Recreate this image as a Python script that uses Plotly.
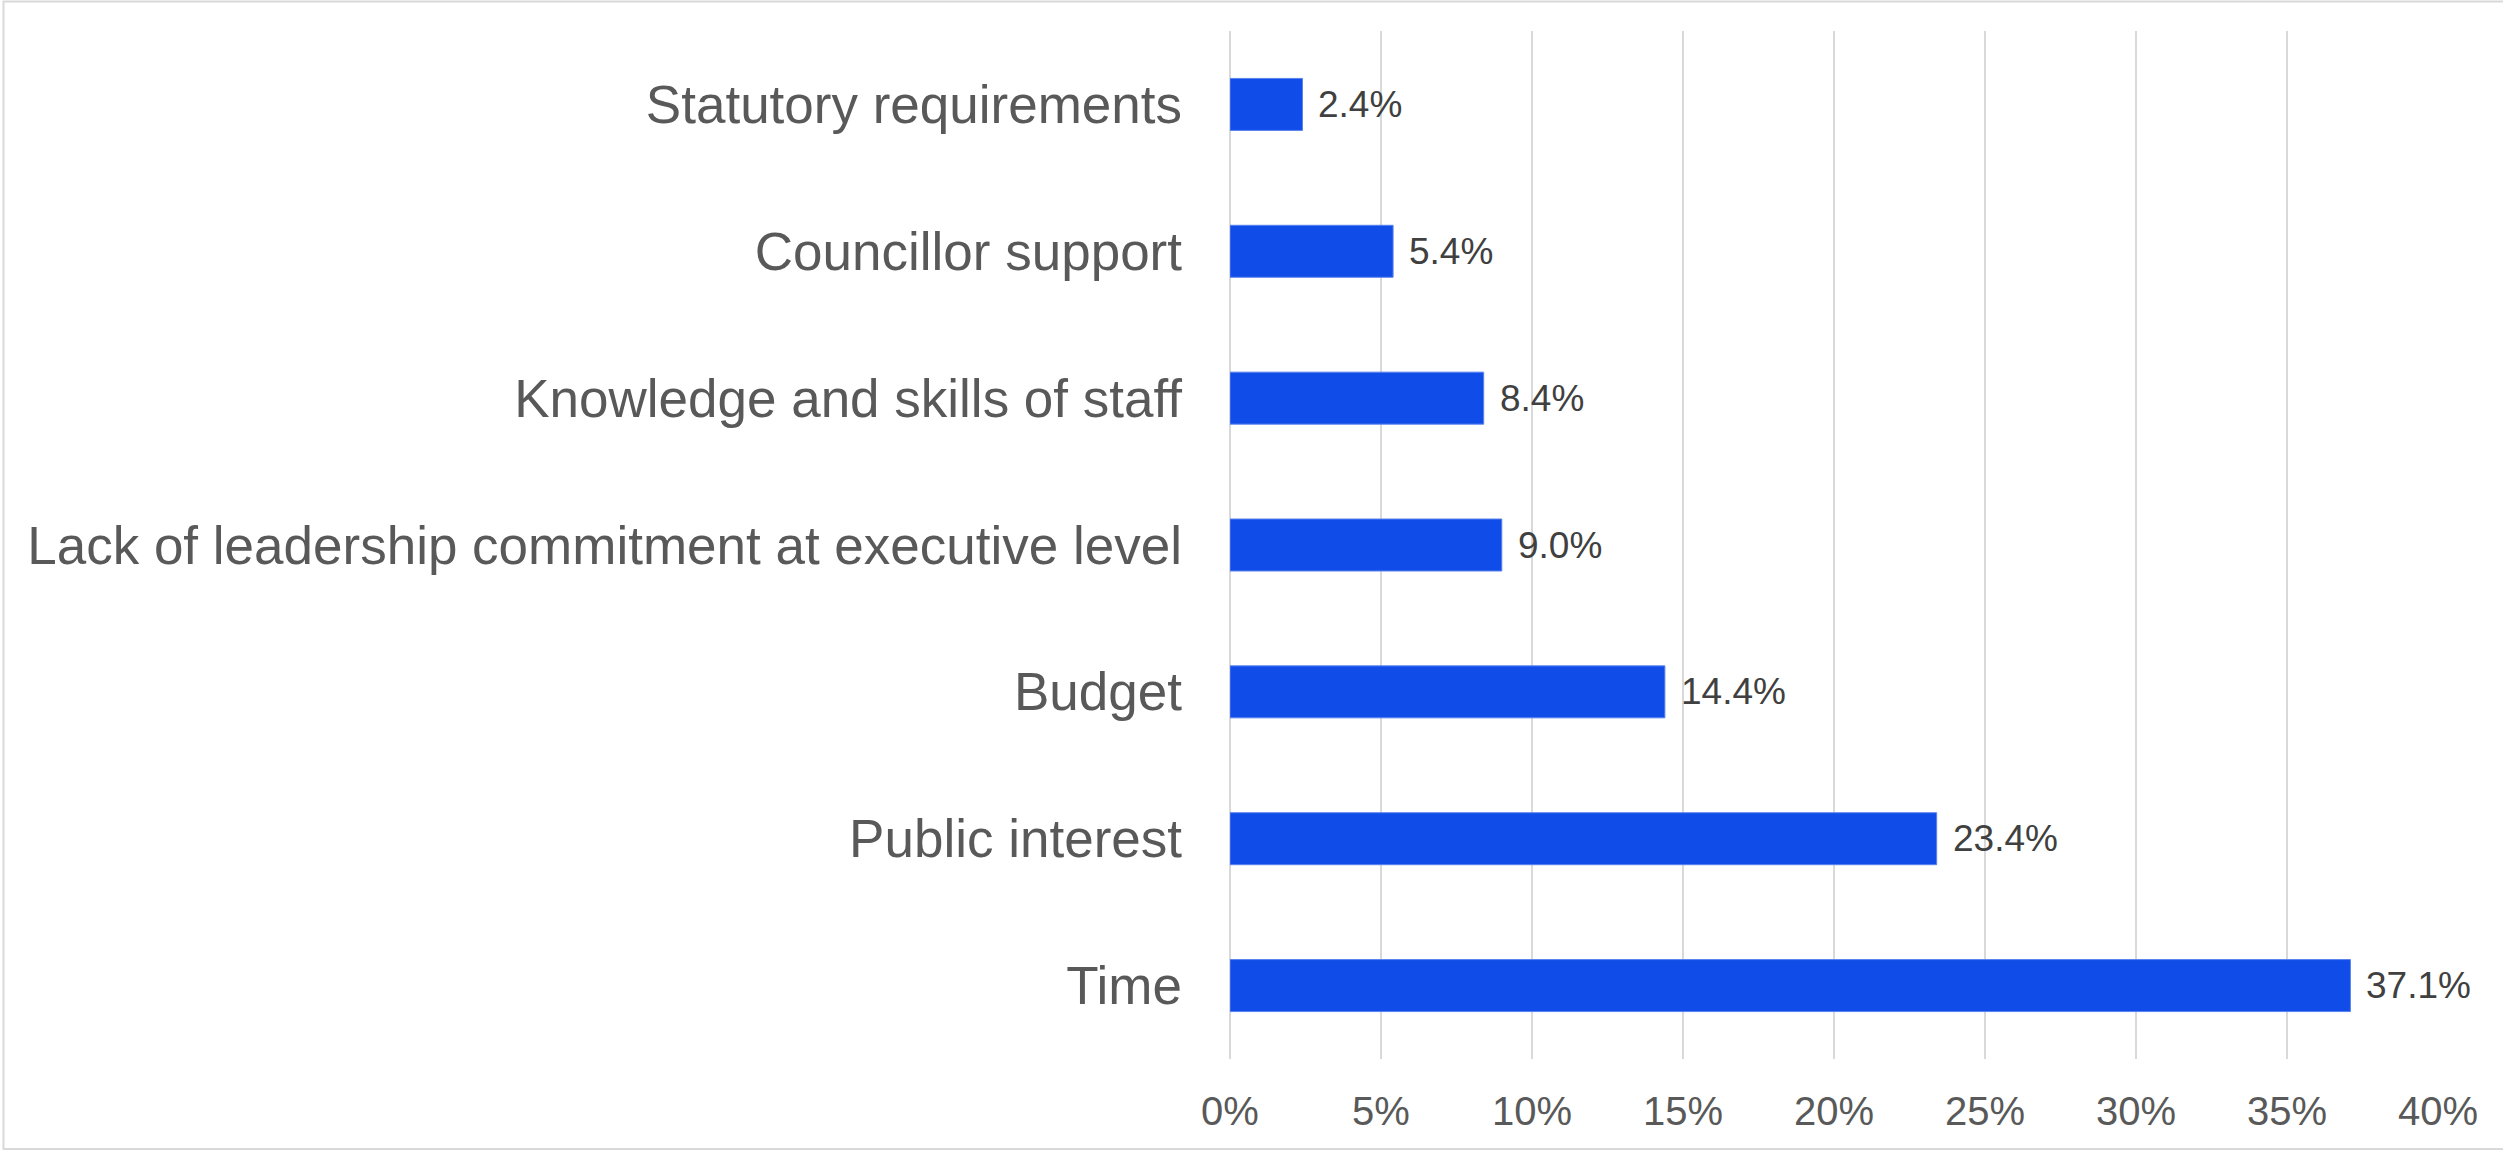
import plotly.graph_objects as go

# Survey responses: barriers, listed top to bottom
categories = [
    "Statutory requirements",
    "Councillor support",
    "Knowledge and skills of staff",
    "Lack of leadership commitment at executive level",
    "Budget",
    "Public interest",
    "Time",
]
values = [2.4, 5.4, 8.4, 9.0, 14.4, 23.4, 37.1]
x_ticks = [0, 5, 10, 15, 20, 25, 30, 35, 40]
x_tick_labels = [f"{t}%" for t in x_ticks]

W, H = 2503, 1150
M_L, M_R, M_T, M_B = 1230, 65, 31, 91
PW = W - M_L - M_R
PH = H - M_T - M_B

FONT = "Liberation Sans, Arial, sans-serif"
BAR_COLOR = "#0F4CE8"
GRID = "#d9d9d9"

fig = go.Figure(
    go.Bar(
        x=values,
        y=categories,
        orientation="h",
        marker=dict(color=BAR_COLOR, line=dict(width=1, color="#5a82ee")),
        width=0.354,
        hoverinfo="x+y",
    )
)

# value labels next to each bar
for cat, v in zip(categories, values):
    fig.add_annotation(
        x=v, y=cat, xref="x", yref="y",
        text=f"{v:.1f}%", showarrow=False,
        xanchor="left", yanchor="middle", xshift=14,
        font=dict(family=FONT, size=37, color="#404040"),
    )

# light frame around the whole chart
fig.add_shape(
    type="rect", xref="paper", yref="paper",
    x0=(3.5 - M_L) / PW, x1=(W + 5 - M_L) / PW,
    y0=-(H - 1 - M_T - PH) / PH, y1=(PH + M_T - 1.5) / PH,
    line=dict(color=GRID, width=2), fillcolor="rgba(0,0,0,0)",
    layer="below",
)

fig.update_layout(
    width=W, height=H,
    margin=dict(l=M_L, r=M_R, t=M_T, b=M_B, pad=0),
    paper_bgcolor="white", plot_bgcolor="white",
    showlegend=False,
    font=dict(family=FONT),
    xaxis=dict(
        range=[0, 40],
        tickvals=x_ticks, ticktext=x_tick_labels,
        showgrid=True, gridcolor=GRID, gridwidth=2,
        zeroline=True, zerolinecolor=GRID, zerolinewidth=2,
        showline=False,
        tickfont=dict(family=FONT, size=40, color="#595959"),
        ticks="", ticklabelstandoff=25,
        fixedrange=True,
    ),
    yaxis=dict(
        categoryorder="array", categoryarray=categories,
        autorange="reversed",
        showgrid=False, zeroline=False, showline=False,
        tickfont=dict(family=FONT, size=53, color="#595959"),
        ticks="", ticklabelstandoff=47,
        fixedrange=True,
    ),
)

fig.write_html("out.html")
